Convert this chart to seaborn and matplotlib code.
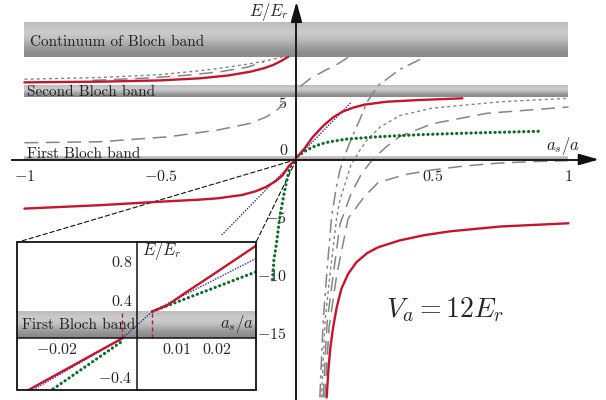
import numpy as np
import matplotlib
matplotlib.use("Agg")
import matplotlib.pyplot as plt
import seaborn as sb
from matplotlib.patches import Rectangle, ConnectionPatch

# ---- dati (x = a_s/a, y = E/E_r) ----
bande_nomi = ["Continuum of Bloch band", "Second Bloch band", "First Bloch band"]
bande_min = [8.9, 5.39, 0.0]
bande_max = [11.93, 6.36, 0.28]

rosso_sx_alto_x = [-1.0, -0.72, -0.5, -0.355, -0.25, -0.17, -0.12, -0.086, -0.055, -0.03]
rosso_sx_alto_y = [6.68, 6.74, 6.85, 7.03, 7.28, 7.6, 7.9, 8.18, 8.55, 8.9]
rosso_sx_basso_x = [-1.0, -0.72, -0.5, -0.36, -0.29, -0.2, -0.15, -0.11, -0.075, -0.05, -0.0271, -0.0036]
rosso_sx_basso_y = [-4.25, -3.95, -3.65, -3.48, -3.36, -3.07, -2.75, -2.35, -1.85, -1.34, -0.54, 0.0]
rosso_dx_alto_x = [0.0039, 0.0075, 0.012, 0.02, 0.03, 0.06, 0.1, 0.135, 0.17, 0.21, 0.25, 0.33, 0.45, 0.61]
rosso_dx_alto_y = [0.28, 0.34, 0.47, 0.69, 0.97, 1.95, 2.95, 3.65, 4.15, 4.5, 4.75, 5.0, 5.15, 5.3]
rosso_dx_basso_x = [0.111, 0.118, 0.125, 0.135, 0.148, 0.165, 0.19, 0.22, 0.26, 0.3, 0.38, 0.47, 0.564, 0.75, 1.0]
rosso_dx_basso_y = [-20.6, -18.0, -16.2, -14.5, -12.8, -11.2, -9.9, -8.9, -8.1, -7.6, -7.0, -6.55, -6.22, -5.8, -5.52]

blu_x = [-0.275, -0.0036, 0.0039, 0.03, 0.203]
blu_y = [-6.54, 0.0, 0.28, 0.835, 5.0]

verde_sx_x = [-0.088, -0.083, -0.073, -0.061, -0.05, -0.04, -0.03, -0.0213, -0.0036]
verde_sx_y = [-10.4, -8.7, -7.2, -4.95, -3.5, -2.3, -1.2, -0.54, -0.03]
verde_dx_x = [0.0039, 0.03, 0.045, 0.062, 0.09, 0.123, 0.185, 0.3, 0.45, 0.65, 0.9]
verde_dx_y = [0.28, 0.695, 0.9, 1.1, 1.35, 1.54, 1.77, 1.97, 2.15, 2.3, 2.45]

grigio_a_x = [-1.0, -0.72, -0.5, -0.35, -0.25, -0.17, -0.1, -0.05]
grigio_a_y = [6.95, 7.1, 7.35, 7.7, 8.0, 8.3, 8.6, 8.9]
grigio_b_x = [-0.75, -0.55, -0.4, -0.28, -0.18, -0.12]
grigio_b_y = [6.85, 7.05, 7.3, 7.6, 8.0, 8.45]
grigio_c_x = [-1.0, -0.72, -0.47, -0.29, -0.17, -0.11, -0.075, -0.06, -0.045]
grigio_c_y = [1.45, 1.54, 1.97, 2.55, 3.13, 3.7, 4.2, 4.55, 5.0]
grigio_d_x = [0.013, 0.05, 0.1, 0.15, 0.19]
grigio_d_y = [6.3, 7.0, 7.65, 8.25, 8.85]
grigio_e_x = [0.086, 0.098, 0.111, 0.129, 0.145, 0.16, 0.18, 0.2, 0.23, 0.26, 0.3, 0.38, 0.47]
grigio_e_y = [-20.6, -14.0, -10.0, -5.0, -2.6, -0.9, 0.5, 1.7, 3.3, 5.0, 6.4, 7.8, 8.85]
grigio_f_x = [0.092, 0.105, 0.123, 0.148, 0.16, 0.2, 0.233, 0.26, 0.307, 0.38, 0.5, 0.75, 1.0]
grigio_f_y = [-20.6, -14.0, -10.0, -5.0, -3.5, -0.5, 0.8, 1.7, 2.8, 3.8, 4.45, 5.0, 5.3]
grigio_g_x = [0.098, 0.113, 0.135, 0.16, 0.2, 0.24, 0.28, 0.33, 0.38, 0.5, 0.7, 1.0]
grigio_g_y = [-20.6, -14.0, -10.0, -5.6, -3.0, -1.2, 0.0, 1.1, 2.0, 3.1, 4.0, 4.55]
grigio_h_x = [0.104, 0.12, 0.148, 0.19, 0.25, 0.3, 0.4, 0.5, 0.62, 0.75, 0.87, 1.0]
grigio_h_y = [-20.6, -14.5, -10.0, -5.1, -3.2, -2.0, -1.3, -0.9, -0.55, -0.3, -0.18, -0.1]

salto_x = [-0.0036, 0.0039]

x_tick = [-1, -0.5, 0.5, 1]
x_tick_lab = ["$-1$", "$-0.5$", "$0.5$", "$1$"]
y_tick = [-15, -10, -5, 5, 10]
y_tick_lab = ["$-15$", "$-10$", "$-5$", "$5$", "$10$"]
ins_x_tick = [-0.02, 0.01, 0.02]
ins_x_lab = ["$-0.02$", "$0.01$", "$0.02$"]
ins_y_tick = [-0.4, 0.4, 0.8]
ins_y_lab = ["$-0.4$", "$0.4$", "$0.8$"]

# ---- stile ----
sb.set_style("white")
plt.rcParams["font.family"] = ["cmr10", "DejaVu Serif"]
plt.rcParams["mathtext.fontset"] = "cm"
plt.rcParams["axes.formatter.use_mathtext"] = True

ROSSO = "#c4152e"
BLU = "#2e2e9e"
VERDE = "#0d6b30"
GRIGIO = "#858585"
sfumatura = np.array([0.74, 0.8, 0.79, 0.74, 0.66, 0.58, 0.54]).reshape(-1, 1)

LUNGO = (0, (9, 5))
CORTO = (0, (2.2, 2.2))
PUNTO_LINEA = (0, (9, 3.5, 2, 3.5))
PUNTI = (0, (0.05, 1.45))
PUNTINI = (0, (1, 1))


def curva(ax, xs, ys, colore, stile, lw, z=3, **kw):
    sb.lineplot(x=xs, y=ys, ax=ax, color=colore, linestyle=stile, linewidth=lw,
                estimator=None, sort=False, zorder=z, **kw)


def bande(ax, x0, x1, quali):
    for i in quali:
        ax.imshow(sfumatura, extent=(x0, x1, bande_min[i], bande_max[i]), cmap="gray",
                  vmin=0, vmax=1, aspect="auto", interpolation="bicubic", zorder=1)


def disegna_curve(ax, scala=1.0):
    curva(ax, grigio_a_x, grigio_a_y, GRIGIO, CORTO, 1.0 * scala)
    curva(ax, grigio_b_x, grigio_b_y, GRIGIO, LUNGO, 1.1 * scala)
    curva(ax, grigio_c_x, grigio_c_y, GRIGIO, LUNGO, 1.1 * scala)
    curva(ax, grigio_d_x, grigio_d_y, GRIGIO, LUNGO, 1.1 * scala)
    curva(ax, grigio_e_x, grigio_e_y, GRIGIO, PUNTO_LINEA, 1.1 * scala)
    curva(ax, grigio_f_x, grigio_f_y, GRIGIO, CORTO, 1.0 * scala)
    curva(ax, grigio_g_x, grigio_g_y, GRIGIO, LUNGO, 1.1 * scala)
    curva(ax, grigio_h_x, grigio_h_y, GRIGIO, LUNGO, 1.1 * scala)
    for xs, ys in [(verde_sx_x, verde_sx_y), (verde_dx_x, verde_dx_y)]:
        curva(ax, xs, ys, VERDE, PUNTI, 2.3, z=4, dash_capstyle="round")
    curva(ax, blu_x, blu_y, BLU, PUNTINI, 1.0, z=4)
    for xs, ys in [(rosso_sx_alto_x, rosso_sx_alto_y), (rosso_sx_basso_x, rosso_sx_basso_y),
                   (rosso_dx_alto_x, rosso_dx_alto_y), (rosso_dx_basso_x, rosso_dx_basso_y)]:
        curva(ax, xs, ys, ROSSO, "-", 1.7, z=5)


fig = plt.figure(figsize=(6.06, 4.0), dpi=100)
ax = fig.add_axes([0, 0, 1, 1])
ax.set_facecolor("white")

bande(ax, -1, 1, [0, 1, 2])
disegna_curve(ax)

testi_pos = [(-0.98, 9.85), (-0.991, 5.5), (-0.991, 0.1)]
for nome, (tx, ty) in zip(bande_nomi, testi_pos):
    ax.text(tx, ty, nome, fontsize=11, ha="left", va="baseline", color="#222222", zorder=6)

# assi con frecce
for lato in ["top", "right"]:
    ax.spines[lato].set_visible(False)
ax.spines["left"].set_position(("data", 0))
ax.spines["bottom"].set_position(("data", 0))
ax.spines["bottom"].set_bounds(-1.046, 1.05)
ax.spines["left"].set_bounds(-21, 12.5)
for lato in ["left", "bottom"]:
    ax.spines[lato].set_linewidth(1.4)
    ax.spines[lato].set_color("#1a1a1a")
    ax.spines[lato].set_zorder(6)
freccia = dict(arrowstyle="-|>,head_length=0.6,head_width=0.17", color="#111111",
               lw=1.4, mutation_scale=20, shrinkA=0, shrinkB=0)
ax.annotate("", xy=(1.112, 0), xytext=(1.04, 0), arrowprops=freccia, zorder=7)
ax.annotate("", xy=(0, 13.65), xytext=(0, 12.4), arrowprops=freccia, zorder=7)

ax.set_xticks(x_tick)
ax.set_xticklabels(x_tick_lab)
ax.set_xticks([t for t in np.round(np.arange(-1, 1.01, 0.1), 2) if t != 0], minor=True)
ax.set_yticks(y_tick)
ax.set_yticklabels(y_tick_lab)
ax.set_yticks([t for t in range(-20, 12) if t != 0], minor=True)
ax.tick_params(axis="x", which="both", direction="out", length=4, width=0.8, pad=2.5,
               labelsize=11.5, color="#1a1a1a")
ax.tick_params(axis="y", which="both", direction="out", length=4.5, width=0.8, pad=2.5,
               labelsize=11.5, color="#1a1a1a")
ax.text(-0.048, 0.74, "$0$", fontsize=11.5, ha="center", va="center")
ax.text(-0.1, 12.75, "$E/E_r$", fontsize=12, ha="center", va="center")
ax.text(0.98, 1.2, "$a_s/a$", fontsize=12, ha="center", va="center")
ax.text(0.546, -13.0, "$V_a = 12E_r$", fontsize=20, ha="center", va="center")
ax.set_xlabel("")
ax.set_ylabel("")
ax.set_xlim(-1.090, 1.138)
ax.set_ylim(-20.82, 13.81)

# ---- riquadro ingrandito ----
axi = fig.add_axes([17.3 / 606, 10 / 400, (256 - 17.3) / 606, (390 - 242.3) / 400], zorder=5)
axi.set_facecolor("white")
bande(axi, -0.05, 0.05, [2])
disegna_curve(axi)
axi.vlines(salto_x, bande_min[2], bande_max[2], colors=ROSSO, linestyles=(0, (3, 2)),
           linewidth=1.0, zorder=5)
axi.text(-0.0287, 0.1, bande_nomi[2], fontsize=11, ha="left", va="baseline", color="#222222", zorder=6)
axi.text(0.025, 0.145, "$a_s/a$", fontsize=12, ha="center", va="center", zorder=6)
axi.text(0.0013, 0.91, "$E/E_r$", fontsize=12, ha="left", va="center", zorder=6)
for lato in ["top", "right"]:
    axi.spines[lato].set_visible(False)
axi.spines["left"].set_position(("data", 0))
axi.spines["bottom"].set_position(("data", 0))
for lato in ["left", "bottom"]:
    axi.spines[lato].set_linewidth(1.1)
    axi.spines[lato].set_color("#111111")
    axi.spines[lato].set_zorder(6)
axi.add_patch(Rectangle((0, 0), 1, 1, transform=axi.transAxes, fill=False, lw=1.3,
                        ec="#111111", clip_on=False, zorder=10))
axi.set_xticks(ins_x_tick)
axi.set_xticklabels(ins_x_lab)
axi.set_xticks(np.round(np.arange(-0.03, 0.0301, 0.002), 4), minor=True)
axi.set_yticks(ins_y_tick)
axi.set_yticklabels(ins_y_lab)
axi.set_yticks(np.round(np.arange(-0.52, 1.0, 0.04), 3), minor=True)
axi.tick_params(axis="both", which="major", direction="in", length=3, width=0.7,
                pad=3, labelsize=11.5)
axi.tick_params(axis="both", which="minor", direction="in", length=2, width=0.6)
axi.set_xlabel("")
axi.set_ylabel("")
axi.set_xlim(-0.0299, 0.0298)
axi.set_ylim(-0.54, 1.0)

for angolo in [(0, 1), (1, 1)]:
    con = ConnectionPatch(xyA=(0, 0), coordsA=ax.transData, xyB=angolo, coordsB=axi.transAxes,
                          color="#111111", lw=0.8, linestyle=(0, (4, 2.5)), zorder=2)
    ax.add_artist(con)

fig.savefig("out.png", dpi=100)
